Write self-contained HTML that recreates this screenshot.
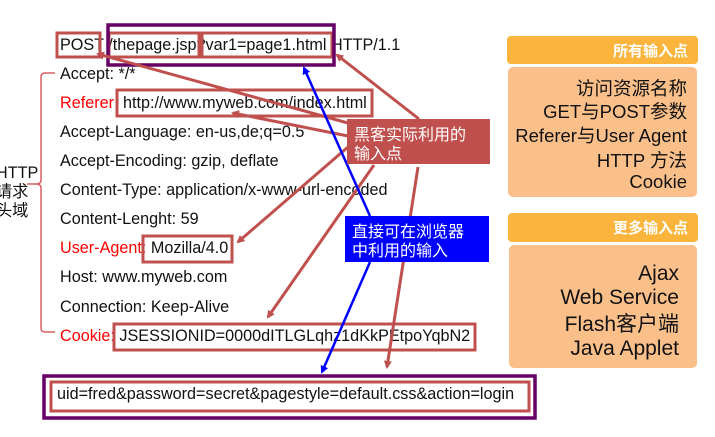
<!DOCTYPE html>
<html><head><meta charset="utf-8"><style>
html,body{margin:0;padding:0;background:#fff;}
svg{display:block;}
text{font-family:"Liberation Sans","Noto Sans CJK SC",sans-serif;}
</style></head><body>
<svg width="715" height="437" viewBox="0 0 715 437" xmlns="http://www.w3.org/2000/svg">
<defs>
<marker id="ar" markerWidth="8" markerHeight="8" refX="6" refY="4" orient="auto" markerUnits="userSpaceOnUse"><path d="M0,0 L8,4 L0,8 z" fill="#c0504d"/></marker>
<marker id="ab" markerWidth="8" markerHeight="8" refX="6" refY="4" orient="auto" markerUnits="userSpaceOnUse"><path d="M0,0 L8,4 L0,8 z" fill="#0000ff"/></marker>
</defs>
<g font-size="16.2" fill="#111">
<text x="60" y="50">POST /thepage.jsp?var1=page1.html HTTP/1.1</text>
<text x="60" y="79">Accept: */*</text>
<text x="60" y="108"><tspan fill="#ff0000">Referer:</tspan> http://www.myweb.com/index.html</text>
<text x="60" y="137">Accept-Language: en-us,de;q=0.5</text>
<text x="60" y="166">Accept-Encoding: gzip, deflate</text>
<text x="60" y="195">Content-Type: application/x-www-url-encoded</text>
<text x="60" y="224">Content-Lenght: 59</text>
<text x="60" y="253"><tspan fill="#ff0000">User-Agent:</tspan> Mozilla/4.0</text>
<text x="60" y="282">Host: www.myweb.com</text>
<text x="60" y="312">Connection: Keep-Alive</text>
<text x="60" y="341"><tspan fill="#ff0000">Cookie:</tspan> JSESSIONID=0000dITLGLqhz1dKkPEtpoYqbN2</text>
<text x="57" y="399">uid=fred&amp;password=secret&amp;pagestyle=default.css&amp;action=login</text>
<text x="-4" y="178">HTTP</text>
<text x="-4" y="197">请求</text>
<text x="-4" y="216">头域</text>
</g>
<path d="M55,73 L45,73 Q41,73 41,77 L41,180 Q41,184 36,184 L27,184 M36,184 Q41,184 41,188 L41,328 Q41,332 45,332 L55,332" fill="none" stroke="#d96060" stroke-width="1.5"/>
<g fill="none" stroke="#c0504d" stroke-width="3">
<rect x="57" y="33" width="43" height="24"/>
<rect x="109" y="33" width="90" height="24"/>
<rect x="202" y="33" width="130" height="24"/>
<rect x="117" y="90" width="255" height="26"/>
<rect x="143" y="236" width="89" height="26"/>
<rect x="114" y="324" width="361" height="26"/>
<rect x="51" y="382" width="478" height="29"/>
</g>
<g fill="none" stroke="#660066" stroke-width="3.5">
<rect x="108" y="25" width="226" height="40"/>
<rect x="44" y="376" width="491" height="42"/>
</g>
<g stroke="#c0504d" stroke-width="3" marker-end="url(#ar)">
<line x1="348" y1="123" x2="98" y2="54"/>
<line x1="348" y1="136" x2="233" y2="113"/>
<line x1="419" y1="119" x2="337" y2="55"/>
<line x1="348" y1="147" x2="238" y2="242"/>
<line x1="374" y1="165" x2="268" y2="317"/>
<line x1="418" y1="167" x2="387" y2="367"/>
</g>
<g stroke="#0000ff" stroke-width="2.5" marker-end="url(#ab)">
<line x1="370" y1="216" x2="304" y2="68"/>
<line x1="370" y1="262" x2="322" y2="372"/>
</g>
<rect x="347" y="119" width="143" height="45" fill="#c0504d"/>
<text x="354" y="140" font-size="16" fill="#fff">黑客实际利用的</text>
<text x="354" y="159" font-size="16" fill="#fff">输入点</text>
<rect x="345" y="216" width="144" height="46" fill="#0000ff"/>
<text x="352" y="237" font-size="16" fill="#fff">直接可在浏览器</text>
<text x="352" y="256" font-size="16" fill="#fff">中利用的输入</text>
<rect x="507" y="36" width="191" height="28" rx="4" fill="#fbb53c"/>
<text x="688" y="56" font-size="15" font-weight="bold" fill="#fff" text-anchor="end">所有输入点</text>
<rect x="508" y="67" width="189" height="130" rx="5" fill="#fbc08a"/>
<g font-size="18.5" fill="#111" text-anchor="end">
<text x="687" y="95">访问资源名称</text>
<text x="687" y="118">GET与POST参数</text>
<text x="687" y="142">Referer与User Agent</text>
<text x="687" y="167">HTTP 方法</text>
<text x="687" y="188">Cookie</text>
</g>
<rect x="508" y="213" width="190" height="29" rx="4" fill="#fbb53c"/>
<text x="688" y="233" font-size="15" font-weight="bold" fill="#fff" text-anchor="end">更多输入点</text>
<rect x="509" y="245" width="188" height="123" rx="5" fill="#fbc08a"/>
<g font-size="21" fill="#111" text-anchor="end">
<text x="679" y="280">Ajax</text>
<text x="679" y="304">Web Service</text>
<text x="679" y="331">Flash客户端</text>
<text x="679" y="355">Java Applet</text>
</g>
</svg>
</body></html>
